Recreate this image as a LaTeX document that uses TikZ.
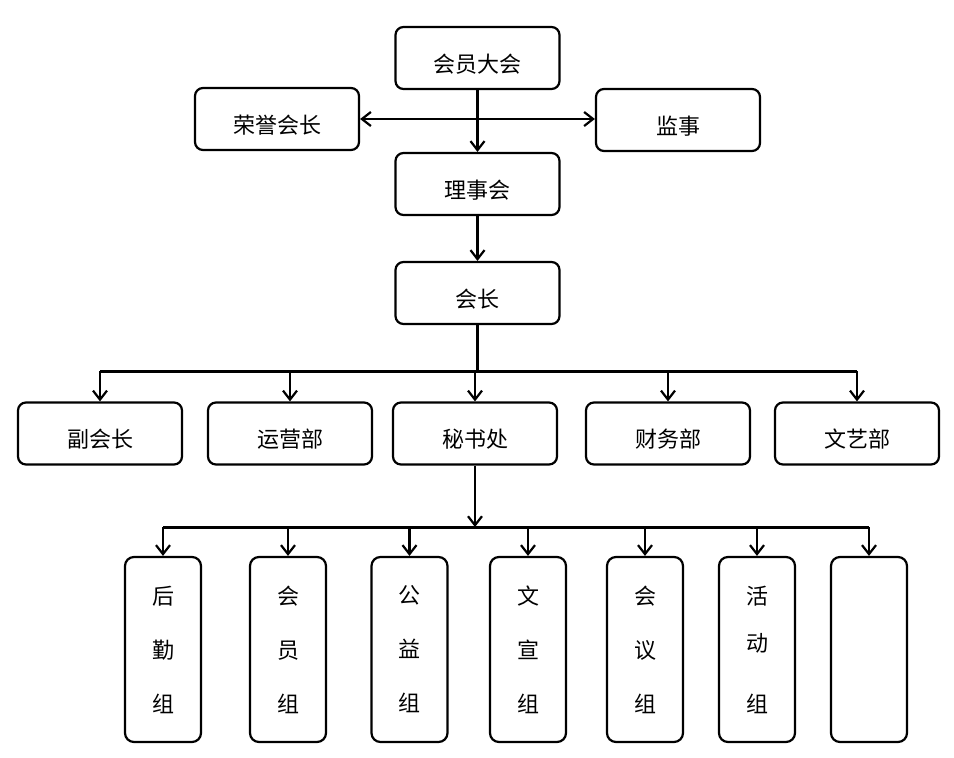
\documentclass[tikz,border=0pt]{standalone}
\usepackage{fontspec}
\setmainfont{Noto Sans CJK SC}
\usetikzlibrary{arrows.meta}
\tikzset{
	box/.style={draw, line width=2.2pt, rounded corners=8pt, minimum width=164pt, minimum height=62pt, inner sep=0pt, text height=28pt, text depth=0pt, font=\fontsize{22}{26}\selectfont},
	tallbox/.style={draw, line width=2.2pt, rounded corners=9pt, minimum width=76pt, minimum height=185pt, inner sep=0pt, align=center, font=\fontsize{22}{54}\selectfont},
	arr/.style={-{Straight Barb[length=9pt,width=14pt]}, line width=2.2pt},
	darr/.style={{Straight Barb[length=9pt,width=14pt]}-{Straight Barb[length=9pt,width=14pt]}, line width=2.2pt},
	bus/.style={line width=3pt}
}
\begin{document}
\begin{tikzpicture}[x=1pt, y=-1pt]
\useasboundingbox (0,0) rectangle (954,758);
% upper part
\node [box] (dahui) at (477.5,58) {会员大会};
\node [box] (rongyu) at (277,119) {荣誉会长};
\node [box] (jianshi) at (678,120) {监事};
\node [box] (lishi) at (477.5,184) {理事会};
\node [box] (huizhang) at (477.5,293) {会长};
\draw [arr] (dahui) -- (lishi);
\draw [darr] (rongyu.east) -- (jianshi.west |- rongyu.east);
\draw [arr] (lishi) -- (huizhang);
% departments
\foreach \name/\x/\txt in {fu/100/副会长, yunying/290/运营部, mishu/475/秘书处, caiwu/668/财务部, wenyi/857/文艺部}{
	\node [box] (\name) at (\x,433.5) {\txt};
}
\coordinate (bus1) at (huizhang.south |- 0,371);
\draw [line width=2.2pt] (huizhang.south) -- (bus1);
\draw [bus] (fu.north |- bus1) -- (wenyi.north |- bus1);
\foreach \name in {fu,yunying,mishu,caiwu,wenyi}{
	\draw [arr] (\name.north |- bus1) -- (\name.north);
}
% groups
\foreach \name/\x/\txt in {houqin/163/后\\勤\\组, huiyuan/288/会\\员\\组, gongyi/409.5/公\\益\\组, wenxuan/528/文\\宣\\组, huiyi/645/会\\议\\组, huodong/757/活\\[-7pt]动\\[7pt]组, kong/869/}{
	\node [tallbox] (\name) at (\x,649.5) {\txt};
}
\coordinate (bus2) at (mishu.south |- 0,527);
\draw [arr] (mishu.south) -- (bus2);
\draw [bus] (houqin.north |- bus2) -- (kong.north |- bus2);
\foreach \name in {houqin,huiyuan,gongyi,wenxuan,huiyi,huodong,kong}{
	\draw [arr] (\name.north |- bus2) -- (\name.north);
}
\end{tikzpicture}
\end{document}
